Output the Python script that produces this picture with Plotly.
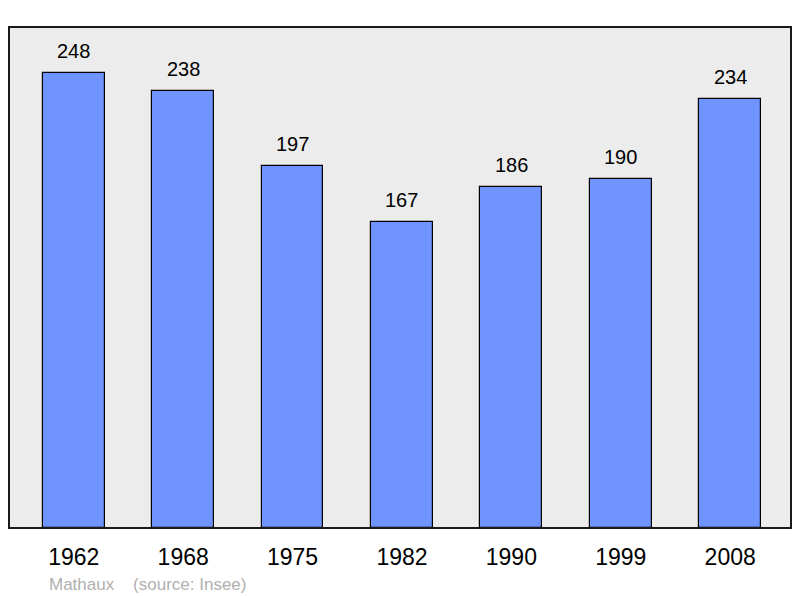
import plotly.graph_objects as go

years = ["1962", "1968", "1975", "1982", "1990", "1999", "2008"]
population = [248, 238, 197, 167, 186, 190, 234]
commune = "Mathaux"
source = "(source: Insee)"

xs = list(range(len(years)))
FONT = "Liberation Sans, Arial, sans-serif"

fig = go.Figure()
fig.add_trace(go.Bar(
    x=xs, y=population, width=0.565,
    marker=dict(color="#7094ff", line=dict(color="#000000", width=1.2)),
    hoverinfo="skip",
))

for x, v in zip(xs, population):
    fig.add_annotation(x=x, y=v, text=str(v), showarrow=False, yanchor="bottom",
                       yshift=9, font=dict(size=20, color="#000000", family=FONT))

fig.add_annotation(xref="paper", yref="paper", x=(47-9)/782, y=-(584-528)/501,
                   xanchor="left", yanchor="middle", showarrow=False,
                   text=f"{commune}&nbsp;&nbsp;&nbsp;&nbsp;{source}",
                   font=dict(size=17, color="#b0b0b0", family=FONT))

fig.add_shape(type="rect", xref="paper", yref="paper", x0=0, x1=1, y0=0, y1=1,
              line=dict(color="#1a1a1a", width=2), fillcolor="rgba(0,0,0,0)", layer="above")

fig.update_layout(
    width=800, height=598,
    margin=dict(l=9, r=9, t=27, b=70),
    paper_bgcolor="#ffffff", plot_bgcolor="#ececec",
    showlegend=False, bargap=0,
    font=dict(family=FONT),
    xaxis=dict(range=[-0.592, 6.556], tickvals=xs, ticktext=years, showgrid=False,
               zeroline=False, ticks="", tickfont=dict(size=23, color="#000000"),
               ticklabelstandoff=13, fixedrange=True),
    yaxis=dict(range=[0, 273], showticklabels=False, showgrid=False, zeroline=False,
               fixedrange=True),
)

fig.write_html("out.html", config={"displayModeBar": False},
               post_script="document.body.style.margin='0';document.body.style.overflow='hidden';")
